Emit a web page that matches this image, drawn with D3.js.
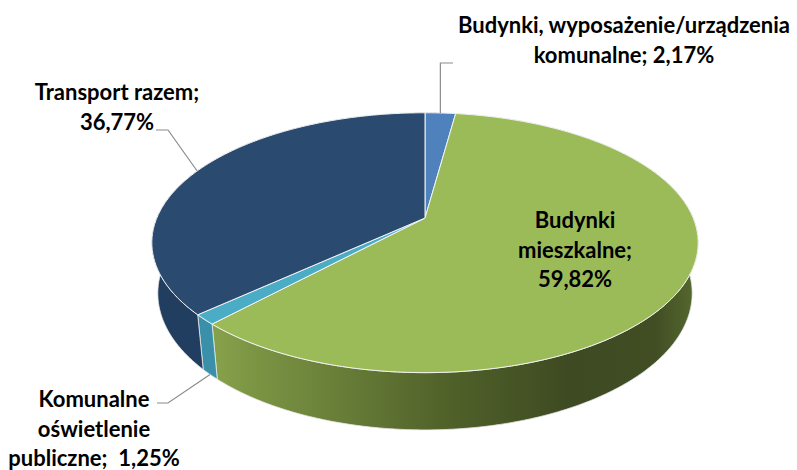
<!DOCTYPE html>
<html>
<head>
<meta charset="utf-8">
<script src="https://cdn.jsdelivr.net/npm/d3@7"></script>
<style>
  body { margin: 0; background: #fff; }
  svg { display: block; }
  text { font-family: Lato, "Open Sans", sans-serif; font-weight: 700; font-size: 22px; fill: #000; }
</style>
</head>
<body>
<svg id="chart" width="797" height="470"></svg>
<script>
const categories = [
  "Budynki, wyposażenie/urządzenia komunalne",
  "Budynki mieszkalne",
  "Komunalne oświetlenie publiczne",
  "Transport razem",
];
const shares = [2.17, 59.82, 1.25, 36.77];
const labelLines = [
  ["Budynki, wyposażenie/urządzenia", "komunalne; 2,17%"],
  ["Budynki", "mieszkalne;", "59,82%"],
  ["Komunalne", "oświetlenie", "publiczne;  1,25%"],
  ["Transport razem;", "36,77%"],
];
const topColors = ["#4f81bd", "#9bbb59", "#4bacc6", "#2a4a70"];
const sideColors = ["#3e6899", "url(#greenSide)", "#3a90a8", "#213d60"];

// perspective view of the disc
const view = { cx: 425, cy: 218, F: 1247, d: 4.65, s: 0.467, c: 0.884, H: 0.215 };

function project(theta, r, h) {
  const x = r * Math.sin(theta);
  const z = -r * Math.cos(theta);
  const depth = view.d - z * view.c - h * view.s;
  return [view.cx + (view.F * x) / depth, view.cy + (view.F * (z * view.s - h * view.c)) / depth];
}

function arcPoints(a0, a1, h) {
  const n = Math.max(2, Math.ceil((a1 - a0) / 0.01));
  return d3.range(n + 1).map((i) => project(a0 + ((a1 - a0) * i) / n, 1, h));
}

const svg = d3.select("#chart");
const defs = svg.append("defs");
const grad = defs
  .append("linearGradient")
  .attr("id", "greenSide")
  .attr("gradientUnits", "userSpaceOnUse")
  .attr("x1", 200)
  .attr("x2", 695)
  .attr("y1", 0)
  .attr("y2", 0);
[
  [0, "#8aa54d"],
  [0.12, "#7a9343"],
  [0.5, "#506129"],
  [0.75, "#3e4a22"],
  [0.92, "#414e24"],
  [1, "#56682f"],
].forEach(([o, c]) => grad.append("stop").attr("offset", o).attr("stop-color", c));

const pie = d3
  .pie()
  .sort(null)
  .value((d) => d)
  .startAngle(0)
  .endAngle(2 * Math.PI);
const slices = pie(shares);
const line = d3.line();

// sides first
svg
  .append("g")
  .selectAll("path")
  .data(slices)
  .enter()
  .append("path")
  .attr("d", (d) => {
    const top = arcPoints(d.startAngle, d.endAngle, 0);
    const bottom = arcPoints(d.startAngle, d.endAngle, -view.H).reverse();
    return line(top.concat(bottom)) + "Z";
  })
  .attr("fill", (d, i) => sideColors[i])
  .attr("stroke", "#e8e8e8")
  .attr("stroke-width", 0.8);

// top faces
svg
  .append("g")
  .selectAll("path")
  .data(slices)
  .enter()
  .append("path")
  .attr("d", (d) => line([project(0, 0, 0)].concat(arcPoints(d.startAngle, d.endAngle, 0))) + "Z")
  .attr("fill", (d, i) => topColors[i])
  .attr("stroke", "#f4f4f4")
  .attr("stroke-width", 1);

// leader lines
const mid = (d) => (d.startAngle + d.endAngle) / 2;
const leaders = [
  (d) => {
    const p = project(mid(d), 1, 0);
    return [p, [p[0], 63], [453, 63]];
  },
  null,
  (d) => [[157, 403], [168, 403], project(mid(d), 1, -view.H)],
  (d) => [[156, 130], [168, 130], project(mid(d), 1, 0)],
];
svg
  .append("g")
  .selectAll("path")
  .data(slices.filter((d, i) => leaders[i]))
  .enter()
  .append("path")
  .attr("d", (d) => line(leaders[d.index](d)))
  .attr("fill", "none")
  .attr("stroke", "#8c8c8c")
  .attr("stroke-width", 1.2);

// labels
const labelPos = [
  [624, 33],
  [575, 228],
  [94, 407],
  [117, 100],
];
svg
  .append("g")
  .selectAll("text")
  .data(slices)
  .enter()
  .append("text")
  .attr("text-anchor", "middle")
  .attr("x", (d, i) => labelPos[i][0])
  .attr("y", (d, i) => labelPos[i][1])
  .each(function (d, i) {
    d3.select(this)
      .selectAll("tspan")
      .data(labelLines[i])
      .enter()
      .append("tspan")
      .attr("x", labelPos[i][0])
      .attr("dy", (t, j) => (j === 0 ? 0 : 29.5))
      .attr("xml:space", "preserve")
      .text((t) => t);
  });
</script>
</body>
</html>
